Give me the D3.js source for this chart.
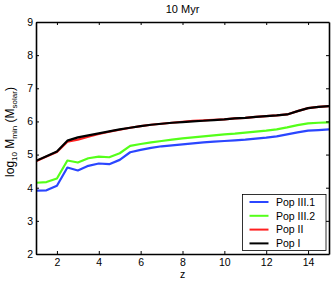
<!DOCTYPE html>
<html>
<head>
<meta charset="utf-8">
<script src="https://cdnjs.cloudflare.com/ajax/libs/d3/7.9.0/d3.min.js"></script>
<style>
  html, body { margin: 0; padding: 0; background: #fff; }
  svg { display: block; font-family: "Liberation Sans", Arial, sans-serif; }
</style>
</head>
<body>
<div id="chart"></div>
<script>
// redshift grid
const zValues = [1, 1.5, 2, 2.5, 3, 3.5, 4, 4.5, 5, 5.5, 6, 6.5, 7, 7.5, 8, 8.5, 9, 9.5, 10, 10.5, 11, 11.5, 12, 12.5, 13, 13.5, 14, 14.5, 15];

// log10 Mmin for each population
const popIII1 = [3.91, 3.92, 4.06, 4.61, 4.52, 4.66, 4.73, 4.71, 4.84, 5.07, 5.14, 5.20, 5.25, 5.28, 5.31, 5.34, 5.37, 5.39, 5.41, 5.43, 5.45, 5.48, 5.51, 5.55, 5.61, 5.67, 5.72, 5.74, 5.76];
const popIII2 = [4.15, 4.17, 4.28, 4.82, 4.76, 4.89, 4.94, 4.92, 5.04, 5.26, 5.32, 5.37, 5.41, 5.45, 5.49, 5.52, 5.55, 5.58, 5.61, 5.63, 5.66, 5.69, 5.72, 5.76, 5.82, 5.89, 5.94, 5.96, 5.97];
const popII   = [4.80, 4.94, 5.08, 5.39, 5.45, 5.54, 5.62, 5.69, 5.75, 5.81, 5.86, 5.90, 5.93, 5.96, 5.99, 6.02, 6.03, 6.05, 6.06, 6.09, 6.11, 6.14, 6.16, 6.18, 6.21, 6.31, 6.40, 6.44, 6.46];
const popI    = [4.81, 4.95, 5.09, 5.42, 5.52, 5.58, 5.64, 5.70, 5.76, 5.81, 5.86, 5.90, 5.93, 5.96, 5.98, 6.00, 6.02, 6.04, 6.06, 6.09, 6.11, 6.14, 6.16, 6.18, 6.21, 6.31, 6.40, 6.44, 6.46];

const seriesNames = ['Pop III.1', 'Pop III.2', 'Pop II', 'Pop I'];
const seriesColors = ['#2b46ff', '#55ff1a', '#ff2020', '#000000'];
const seriesValues = [popIII1, popIII2, popII, popI];

const xTicks = [2, 4, 6, 8, 10, 12, 14];
const yTicks = [2, 3, 4, 5, 6, 7, 8, 9];
const title = '10 Myr';

const W = 332, H = 282;
const m = { left: 36, right: 3, top: 22, bottom: 28 };

const svg = d3.select('#chart').append('svg')
  .attr('width', W).attr('height', H);

const x = d3.scaleLinear().domain([1, 15]).range([m.left, W - m.right]);
const y = d3.scaleLinear().domain([2, 9]).range([H - m.bottom, m.top]);

// title
svg.append('text')
  .attr('x', 182.5)
  .attr('y', 13)
  .attr('text-anchor', 'middle')
  .attr('font-size', 11)
  .text(title);

// data lines (drawn under the frame)
svg.append('clipPath').attr('id', 'clip')
  .append('rect')
  .attr('x', m.left).attr('y', m.top)
  .attr('width', W - m.left - m.right).attr('height', H - m.top - m.bottom);
const plot = svg.append('g').attr('clip-path', 'url(#clip)');

const line = d3.line()
  .x((d, i) => x(zValues[i]))
  .y(d => y(d));

seriesValues.forEach((vals, k) => {
  plot.append('path')
    .datum(vals)
    .attr('fill', 'none')
    .attr('stroke', seriesColors[k])
    .attr('stroke-width', 2.2)
    .attr('stroke-linejoin', 'round')
    .attr('d', line);
});

// axes, ticks pointing inward, mirrored on top and right
const tickLen = 3;
const fmt = d3.format('d');
const axBottom = svg.append('g')
  .attr('transform', `translate(0,${y(2)})`)
  .call(d3.axisBottom(x).tickValues(xTicks).tickFormat(fmt).tickSizeInner(-tickLen).tickSizeOuter(0).tickPadding(5));
const axLeft = svg.append('g')
  .attr('transform', `translate(${x(1)},0)`)
  .call(d3.axisLeft(y).tickValues(yTicks).tickFormat(fmt).tickSizeInner(-tickLen).tickSizeOuter(0).tickPadding(3));
const axTop = svg.append('g')
  .attr('transform', `translate(0,${y(9)})`)
  .call(d3.axisTop(x).tickValues(xTicks).tickSizeInner(-tickLen).tickSizeOuter(0).tickFormat(''));
const axRight = svg.append('g')
  .attr('transform', `translate(${x(15)},0)`)
  .call(d3.axisRight(y).tickValues(yTicks).tickSizeInner(-tickLen).tickSizeOuter(0).tickFormat(''));

[axBottom, axLeft, axTop, axRight].forEach(g => {
  g.select('.domain').attr('stroke', '#000').attr('stroke-width', 1.6);
  g.selectAll('.tick line').attr('stroke', '#000').attr('stroke-width', 1);
  g.selectAll('.tick text')
    .attr('font-size', 10.5)
    .attr('font-family', '"Liberation Sans", Arial, sans-serif')
    .attr('fill', '#000');
});

// axis labels
svg.append('text')
  .attr('x', (x.range()[0] + x.range()[1]) / 2)
  .attr('y', 278)
  .attr('text-anchor', 'middle')
  .attr('font-size', 10.5)
  .text('z');

const yl = svg.append('text')
  .attr('transform', 'translate(14,132) rotate(-90)')
  .attr('text-anchor', 'middle')
  .attr('font-size', 12);
yl.append('tspan').text('log');
yl.append('tspan').attr('font-size', 8).attr('dy', 3).text('10');
yl.append('tspan').attr('dy', -3).text(' M');
yl.append('tspan').attr('font-size', 8).attr('dy', 3).text('min');
yl.append('tspan').attr('dy', -3).text(' (M');
yl.append('tspan').attr('font-size', 8).attr('dy', 3).text('solar');
yl.append('tspan').attr('dy', -3).text(')');

// legend
const lg = svg.append('g').attr('transform', 'translate(242.5,194.5)');
lg.append('rect')
  .attr('width', 83.5).attr('height', 56)
  .attr('fill', '#fff').attr('stroke', '#000').attr('stroke-width', 0.8);
seriesNames.forEach((name, k) => {
  const yy = 7.5 + k * 13.8;
  lg.append('line')
    .attr('x1', 7).attr('x2', 26)
    .attr('y1', yy).attr('y2', yy)
    .attr('stroke', seriesColors[k]).attr('stroke-width', 2);
  lg.append('text')
    .attr('x', 33.5).attr('y', yy + 3.8)
    .attr('font-size', 10.5)
    .text(name);
});
</script>
</body>
</html>
